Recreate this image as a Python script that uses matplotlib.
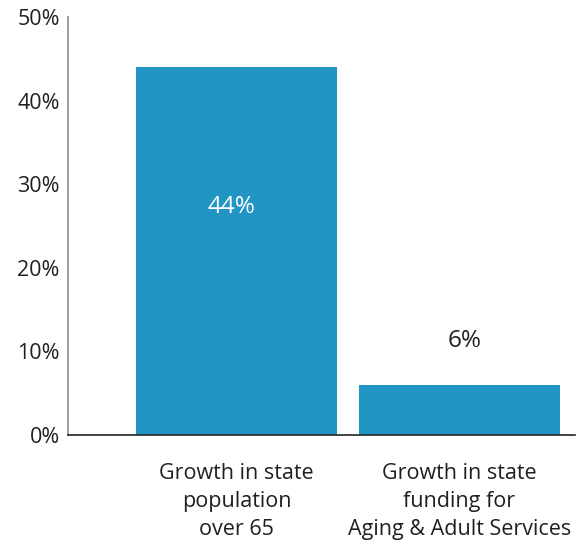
import matplotlib.pyplot as plt

plt.rcParams['font.family'] = ['Open Sans', 'DejaVu Sans']

categories = ["Growth in state\npopulation\nover 65",
              "Growth in state\nfunding for\nAging & Adult Services"]
values = [44, 6]
value_labels = ["44%", "6%"]
yticks = [0, 10, 20, 30, 40, 50]
ytick_labels = ["0%", "10%", "20%", "30%", "40%", "50%"]

bar_color = "#2196C4"
text_color = "#231F20"

fig = plt.figure(figsize=(5.86, 5.41), dpi=100)
ax = fig.add_axes([0.116, 0.196, 0.865, 0.7726])

x = list(range(len(categories)))
bars = ax.bar(x, values, width=0.901, color=bar_color)

ax.set_xlim(-0.7556, 1.518)
ax.set_ylim(0, 50)
ax.set_yticks(yticks)
ax.set_yticklabels(ytick_labels, fontsize=15.5, color=text_color)
ax.set_xticks(x)
ax.set_xticklabels(categories, fontsize=15.5, color=text_color, linespacing=1.45)
ax.tick_params(axis='both', length=0)
ax.tick_params(axis='y', pad=6)
ax.tick_params(axis='x', pad=20)

for side in ['top', 'right']:
    ax.spines[side].set_visible(False)
ax.spines['left'].set_color('#8a8a8a')
ax.spines['left'].set_linewidth(1.2)
ax.spines['bottom'].set_color('#222222')
ax.spines['bottom'].set_linewidth(1.2)

# tall bar gets its label inside, short bar above
ax.annotate(value_labels[0], (x[0], values[0] - 16.5), xytext=(-3.5, -1.5),
            textcoords='offset points', ha='center', va='center',
            fontsize=17.5, color='white')
ax.annotate(value_labels[1], (x[1], values[1] + 5.5), xytext=(4, -1.5),
            textcoords='offset points', ha='center', va='center',
            fontsize=17.5, color=text_color)

fig.savefig("out.png", dpi=100)
